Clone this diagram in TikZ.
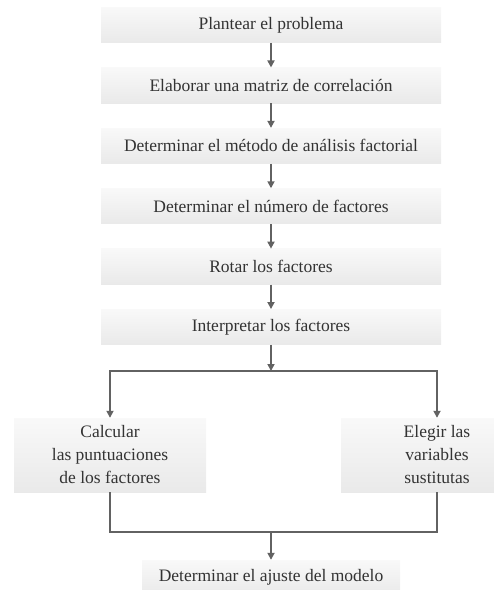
\documentclass[tikz,border=0pt]{standalone}
\usepackage{fontspec}
\setmainfont{Liberation Serif}
\usetikzlibrary{positioning,arrows.meta}

\definecolor{textogris}{HTML}{333333}
\definecolor{lineagris}{HTML}{626262}

\tikzset{
    paso/.style={rectangle, minimum width=340pt, minimum height=35.5pt,
        top color=gray!5, bottom color=gray!17, draw=none,
        text=textogris, align=center,
        font=\fontsize{17.5}{23}\selectfont},
    rama/.style={paso, minimum width=192pt, minimum height=74pt},
    linea/.style={draw=lineagris, line width=1.7pt},
    flecha/.style={linea, -{Triangle[width=7pt,length=7pt]}}
}

\begin{document}
\begin{tikzpicture}[x=1pt, y=-1pt, node distance=24.5pt]
\useasboundingbox (0,0) rectangle (494,590);

% secuencia principal
\node[paso] (plantear) at (271,25) {Plantear el problema};
\node[paso, below=of plantear] (matriz) {Elaborar una matriz de correlación};
\node[paso, below=of matriz] (metodo) {Determinar el método de análisis factorial};
\node[paso, below=of metodo] (numero) {Determinar el número de factores};
\node[paso, below=of numero] (rotar) {Rotar los factores};
\node[paso, below=of rotar] (interp) {Interpretar los factores};

% las dos ramas
\coordinate (split) at (271,371);
\node[rama] (calcular) at (110,455) {Calcular\\las puntuaciones\\de los factores};
\node[rama] (elegir) at (437,455) {Elegir las\\variables\\sustitutas};
\coordinate (merge) at (271,532);
\node[paso, minimum width=258pt] (ajuste) at (271,577.75) {Determinar el ajuste del modelo};

% conectores
\draw[flecha] (plantear) -- (matriz);
\draw[flecha] (matriz) -- (metodo);
\draw[flecha] (metodo) -- (numero);
\draw[flecha] (numero) -- (rotar);
\draw[flecha] (rotar) -- (interp);
\draw[flecha] (interp) -- (split);
\draw[flecha] (split) -| (calcular);
\draw[flecha] (split) -| (elegir);
\draw[linea] (calcular) |- (merge);
\draw[linea] (elegir) |- (merge);
\draw[flecha] (merge) -- (ajuste);
\end{tikzpicture}
\end{document}
